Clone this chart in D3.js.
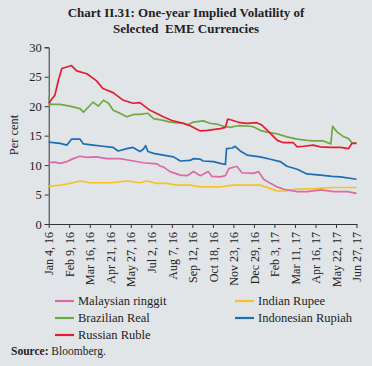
<!DOCTYPE html>
<html><head><meta charset="utf-8">
<script src="https://cdn.jsdelivr.net/npm/d3@7"></script>
<style>
html,body{margin:0;padding:0;background:#e2e5e8;}
svg{display:block;}
text{font-family:"Liberation Serif","DejaVu Serif",serif;fill:#222;}
</style></head><body>
<svg id="c" width="372" height="366"></svg>
<script>
const tickLabels = ["Jan 4, 16","Feb 9, 16","Mar 16, 16","Apr 21, 16","May 27, 16","Jul 2, 16","Aug 7, 16","Sep 12, 16","Oct 18, 16","Nov 23, 16","Dec 29, 16","Feb 3, 17","Mar 11, 17","Apr 16, 17","May 22, 17","Jun 27, 17"];
const tickDates = ["2016-01-04","2016-02-09","2016-03-16","2016-04-21","2016-05-27","2016-07-02","2016-08-07","2016-09-12","2016-10-18","2016-11-23","2016-12-29","2017-02-03","2017-03-11","2017-04-16","2017-05-22","2017-06-27"];
const yTicks = [0,5,10,15,20,25,30];

const seriesNames = ["Malaysian ringgit","Indian Rupee","Brazilian Real","Indonesian Rupiah","Russian Ruble"];
const seriesColors = ["#dc6aa6","#f4c424","#6ea943","#1f6db5","#e41e30"];

const malaysia = [["2016-01-04",10.4],["2016-01-14",10.5],["2016-01-24",10.3],["2016-02-05",10.6],["2016-02-16",11.1],["2016-02-28",11.5],["2016-03-11",11.3],["2016-03-28",11.4],["2016-04-15",11.1],["2016-05-08",11.1],["2016-06-01",10.7],["2016-06-18",10.4],["2016-07-12",10.2],["2016-07-18",9.8],["2016-07-23",9.7],["2016-08-04",8.9],["2016-08-22",8.3],["2016-09-03",8.2],["2016-09-14",8.9],["2016-09-26",8.2],["2016-10-10",8.9],["2016-10-16",8.1],["2016-10-31",8.0],["2016-11-09",8.2],["2016-11-15",9.4],["2016-11-29",9.8],["2016-12-08",8.7],["2016-12-28",8.6],["2017-01-06",8.9],["2017-01-15",7.6],["2017-01-27",6.9],["2017-02-08",6.3],["2017-02-19",5.9],["2017-03-15",5.5],["2017-04-01",5.5],["2017-04-25",5.8],["2017-05-18",5.5],["2017-06-11",5.5],["2017-06-27",5.2]];
const india = [["2016-01-04",6.4],["2016-01-24",6.6],["2016-02-10",6.9],["2016-02-28",7.3],["2016-03-17",7.0],["2016-04-21",7.0],["2016-05-20",7.3],["2016-06-12",7.0],["2016-06-24",7.3],["2016-07-12",6.9],["2016-07-29",6.9],["2016-08-16",6.6],["2016-09-08",6.6],["2016-09-26",6.3],["2016-10-31",6.3],["2016-11-23",6.6],["2017-01-09",6.6],["2017-01-27",6.0],["2017-02-08",5.6],["2017-02-25",5.6],["2017-03-09",5.9],["2017-04-13",6.0],["2017-05-18",6.2],["2017-06-27",6.2]];
const brazil = [["2016-01-04",21.6],["2016-01-06",20.3],["2016-01-24",20.3],["2016-02-10",20.0],["2016-02-28",19.6],["2016-03-05",19.0],["2016-03-17",20.2],["2016-03-22",20.7],["2016-03-31",20.0],["2016-04-09",21.0],["2016-04-18",20.5],["2016-04-26",19.3],["2016-05-08",18.8],["2016-05-20",18.2],["2016-06-01",18.6],["2016-06-12",18.6],["2016-06-26",18.8],["2016-07-06",17.9],["2016-07-23",17.6],["2016-08-04",17.3],["2016-08-27",17.1],["2016-09-03",16.8],["2016-09-14",17.3],["2016-10-01",17.5],["2016-10-13",17.1],["2016-10-27",16.9],["2016-11-06",16.6],["2016-11-18",16.4],["2016-11-26",16.6],["2016-12-05",16.7],["2016-12-23",16.6],["2016-12-28",16.5],["2017-01-09",15.9],["2017-01-21",15.6],["2017-02-08",15.3],["2017-02-25",14.8],["2017-03-15",14.4],["2017-04-01",14.2],["2017-04-13",14.1],["2017-04-30",14.1],["2017-05-13",13.6],["2017-05-16",16.6],["2017-05-24",15.6],["2017-06-05",14.8],["2017-06-13",14.5],["2017-06-19",13.8],["2017-06-27",13.7]];
const indonesia = [["2016-01-04",13.9],["2016-01-24",13.7],["2016-02-05",13.4],["2016-02-13",14.4],["2016-02-28",14.4],["2016-03-05",13.6],["2016-03-22",13.4],["2016-04-08",13.2],["2016-04-26",13.0],["2016-05-05",12.4],["2016-05-20",12.8],["2016-05-31",13.0],["2016-06-12",12.3],["2016-06-18",12.7],["2016-06-22",13.3],["2016-06-26",12.3],["2016-07-06",12.0],["2016-07-23",11.7],["2016-08-10",11.4],["2016-08-22",10.7],["2016-09-08",10.8],["2016-09-14",11.1],["2016-09-26",11.0],["2016-10-01",10.7],["2016-10-19",10.6],["2016-10-31",10.3],["2016-11-09",10.1],["2016-11-11",12.8],["2016-11-21",12.9],["2016-11-26",13.2],["2016-12-05",12.4],["2016-12-17",11.7],["2017-01-09",11.4],["2017-01-27",11.0],["2017-02-13",10.6],["2017-02-25",9.8],["2017-03-15",9.3],["2017-04-01",8.5],["2017-04-25",8.3],["2017-05-15",8.1],["2017-05-30",8.0],["2017-06-27",7.6]];
const russia = [["2016-01-04",20.5],["2016-01-15",21.9],["2016-01-21",24.4],["2016-01-27",26.4],["2016-02-13",26.9],["2016-02-22",26.0],["2016-03-11",25.5],["2016-03-28",24.3],["2016-04-08",23.0],["2016-04-26",22.3],["2016-05-14",21.0],["2016-05-31",20.5],["2016-06-12",20.6],["2016-06-30",19.3],["2016-07-23",18.2],["2016-08-09",17.5],["2016-08-27",17.1],["2016-09-08",16.7],["2016-09-26",15.8],["2016-10-08",15.9],["2016-10-31",16.2],["2016-11-09",16.4],["2016-11-13",17.8],["2016-11-18",17.7],["2016-12-05",17.2],["2016-12-17",17.1],["2017-01-03",17.2],["2017-01-12",16.8],["2017-01-27",15.4],["2017-02-08",14.2],["2017-02-19",13.8],["2017-03-08",13.8],["2017-03-15",13.1],["2017-03-26",13.2],["2017-04-12",13.4],["2017-04-25",13.1],["2017-05-12",13.0],["2017-05-30",13.0],["2017-06-13",12.8],["2017-06-19",13.7],["2017-06-27",13.7]];

const seriesData = [malaysia, india, brazil, indonesia, russia];
const parse = d3.timeParse("%Y-%m-%d");

const svg = d3.select("#c");
const m = {left:48.7, right:356.5, top:47.3, bottom:224};
const x = d3.scaleTime().domain([parse(tickDates[0]), parse(tickDates[tickDates.length-1])]).range([m.left, m.right]);
const y = d3.scaleLinear().domain([0,30]).range([m.bottom, m.top]);

// title
svg.append("text").attr("x",186).attr("y",17).attr("text-anchor","middle")
  .style("font-weight","bold").style("font-size","13px").text("Chart II.31: One-year Implied Volatility of");
svg.append("text").attr("x",186).attr("y",33).attr("text-anchor","middle")
  .style("font-weight","bold").style("font-size","13px").attr("xml:space","preserve").text("Selected  EME Currencies");

// y axis
const ya = svg.append("g").attr("transform",`translate(${m.left},0)`)
  .call(d3.axisLeft(y).tickValues(yTicks).tickSize(4).tickPadding(3));
ya.selectAll("text").style("font-size","12.5px").style("font-family","Liberation Serif, serif");
ya.select(".domain").attr("stroke","#333");
ya.selectAll(".tick line").attr("stroke","#333");

// x axis
const xa = svg.append("g").attr("transform",`translate(0,${m.bottom})`)
  .call(d3.axisBottom(x).tickValues(tickDates.map(parse)).tickFormat((d,i)=>tickLabels[i]).tickSize(4).tickSizeOuter(0));
xa.select(".domain").attr("stroke","#333");
xa.selectAll(".tick line").attr("stroke","#333");
xa.selectAll("text").style("font-size","12px").style("font-family","Liberation Serif, serif")
  .attr("transform","rotate(-90)").attr("text-anchor","end").attr("x",-8).attr("y",0).attr("dy","0.35em");

// y label
svg.append("text").attr("transform","translate(18,135) rotate(-90)").attr("text-anchor","middle")
  .style("font-size","12.5px").text("Per cent");

// lines
const line = d3.line().x(d=>x(parse(d[0]))).y(d=>y(d[1])).curve(d3.curveLinear);
const order = [1,0,3,2,4];
order.forEach(i=>{
  svg.append("path").datum(seriesData[i]).attr("d",line).attr("fill","none")
    .attr("stroke",seriesColors[i]).attr("stroke-width",1.7).attr("stroke-linejoin","round");
});

// legend
const legPos = [[55,301],[235,301],[55,318],[235,318],[55,335]];
const legOrder = [0,1,2,3,4];
legOrder.forEach((i,k)=>{
  const [lx,ly] = legPos[k];
  svg.append("line").attr("x1",lx).attr("x2",lx+19).attr("y1",ly).attr("y2",ly)
    .attr("stroke",seriesColors[i]).attr("stroke-width",2.2);
  svg.append("text").attr("x",lx+23).attr("y",ly+4).style("font-size","12.5px").text(seriesNames[i]);
});

// source
const src = svg.append("text").attr("x",11).attr("y",355).style("font-size","11.5px");
src.append("tspan").style("font-weight","bold").text("Source:");
src.append("tspan").text(" Bloomberg.");
</script>
</body></html>
